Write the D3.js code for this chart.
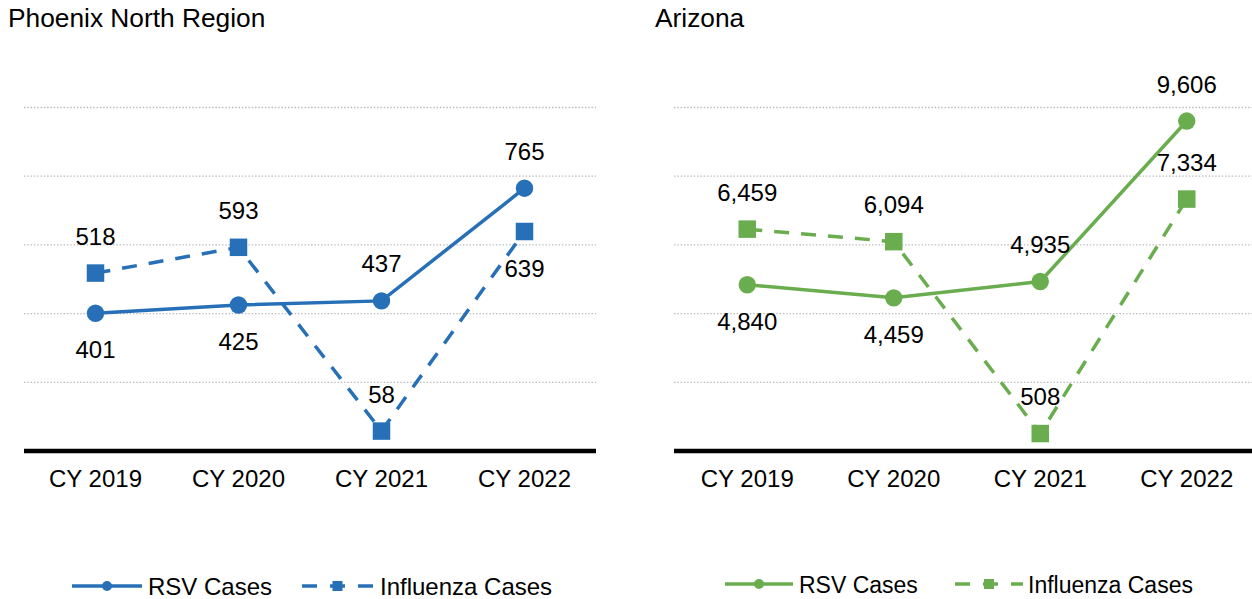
<!DOCTYPE html>
<html>
<head>
<meta charset="utf-8">
<script src="https://cdn.jsdelivr.net/npm/d3@7"></script>
<style>
  html, body { margin: 0; padding: 0; background: #fff; }
  svg { display: block; font-family: "Liberation Sans", Arial, sans-serif; }
</style>
</head>
<body>
<svg id="chart" width="1252" height="599"></svg>
<script>
// Calendar years on the x axis
const categories = ["CY 2019", "CY 2020", "CY 2021", "CY 2022"];

// Phoenix North Region case counts
const phxRsv = [401, 425, 437, 765];
const phxFlu = [518, 593, 58, 639];

// Arizona statewide case counts
const azRsv = [4840, 4459, 4935, 9606];
const azFlu = [6459, 6094, 508, 7334];

// Value axis extents (gridlines every fifth of the range)
const phxMax = 1000;
const azMax = 10000;

// Where each data label sits relative to its marker
const phxRsvLabelPos = ["below", "below", "above", "above"];
const phxFluLabelPos = ["above", "above", "above", "below"];
const azRsvLabelPos  = ["below", "below", "above", "above"];
const azFluLabelPos  = ["above", "above", "above", "above"];

const BLUE = "#2770B8";
const GREEN = "#69AD4F";

const svg = d3.select("#chart");
const fmt = d3.format(",");

const panels = [
  {
    title: "Phoenix North Region", titleX: 8,
    x0: 24, x1: 596, max: phxMax, color: BLUE,
    series: [
      { name: "RSV Cases", values: phxRsv, labelPos: phxRsvLabelPos, dashed: false, marker: "circle" },
      { name: "Influenza Cases", values: phxFlu, labelPos: phxFluLabelPos, dashed: true, marker: "square" }
    ],
    legend: { y: 586, font: 24, rsvLine: [72, 142], rsvText: 148, fluLine: [302, 373], fluText: 380 }
  },
  {
    title: "Arizona", titleX: 655,
    x0: 674, x1: 1260, max: azMax, color: GREEN,
    series: [
      { name: "RSV Cases", values: azRsv, labelPos: azRsvLabelPos, dashed: false, marker: "circle" },
      { name: "Influenza Cases", values: azFlu, labelPos: azFluLabelPos, dashed: true, marker: "square" }
    ],
    legend: { y: 584, font: 23, rsvLine: [725, 793], rsvText: 799, fluLine: [955, 1023], fluText: 1028 }
  }
];

const yTop = 107.5, yBottom = 451;
const DASH = "15,12";
const FONT = 24;

panels.forEach(p => {
  const g = svg.append("g");

  const x = d3.scaleBand().domain(categories).range([p.x0, p.x1]);
  const y = d3.scaleLinear().domain([0, p.max]).range([yBottom, yTop]);
  const cx = c => x(c) + x.bandwidth() / 2;

  // Title
  g.append("text")
    .attr("x", p.titleX).attr("y", 27)
    .attr("font-size", 26.3).attr("fill", "#000")
    .text(p.title);

  // Dotted horizontal gridlines
  g.append("g")
    .selectAll("line")
    .data(y.ticks(5).filter(t => t > 0))
    .join("line")
    .attr("x1", p.x0).attr("x2", p.x1)
    .attr("y1", d => y(d)).attr("y2", d => y(d))
    .attr("stroke", "#BDBDBD").attr("stroke-width", 1.3)
    .attr("stroke-dasharray", "1.5,1.8");

  // Category axis: heavy baseline, no ticks
  const axis = g.append("g")
    .attr("transform", `translate(0,${yBottom})`)
    .call(d3.axisBottom(x).tickSize(0).tickPadding(0));
  axis.select(".domain")
    .attr("stroke", "#000").attr("stroke-width", 4.5)
    .attr("d", `M${p.x0},0H${p.x1}`);
  axis.selectAll(".tick text")
    .attr("font-size", FONT).attr("fill", "#000")
    .attr("font-family", "Liberation Sans, Arial, sans-serif")
    .attr("dy", 0).attr("y", 36);

  const line = d3.line()
    .x((d, i) => cx(categories[i]))
    .y(d => y(d));

  // Series lines
  p.series.forEach(s => {
    g.append("path")
      .datum(s.values)
      .attr("d", line)
      .attr("fill", "none")
      .attr("stroke", p.color)
      .attr("stroke-width", 3.5)
      .attr("stroke-dasharray", s.dashed ? DASH : null);
  });

  // Markers
  p.series.forEach(s => {
    const mg = g.append("g");
    if (s.marker === "circle") {
      mg.selectAll("circle").data(s.values).join("circle")
        .attr("cx", (d, i) => cx(categories[i]))
        .attr("cy", d => y(d))
        .attr("r", 8.7)
        .attr("fill", p.color);
    } else {
      const sz = 17.5;
      mg.selectAll("rect").data(s.values).join("rect")
        .attr("x", (d, i) => cx(categories[i]) - sz / 2)
        .attr("y", d => y(d) - sz / 2)
        .attr("width", sz).attr("height", sz)
        .attr("fill", p.color);
    }
  });

  // Data labels
  p.series.forEach(s => {
    g.append("g").selectAll("text").data(s.values).join("text")
      .attr("x", (d, i) => cx(categories[i]))
      .attr("y", (d, i) => s.labelPos[i] === "above" ? y(d) - 28.5 : y(d) + 45)
      .attr("text-anchor", "middle")
      .attr("font-size", FONT).attr("fill", "#000")
      .text(d => fmt(d));
  });

  // Legend
  const L = p.legend;
  const lg = g.append("g");
  lg.append("line")
    .attr("x1", L.rsvLine[0]).attr("x2", L.rsvLine[1])
    .attr("y1", L.y).attr("y2", L.y)
    .attr("stroke", p.color).attr("stroke-width", 3.5);
  lg.append("circle")
    .attr("cx", (L.rsvLine[0] + L.rsvLine[1]) / 2).attr("cy", L.y)
    .attr("r", 5).attr("fill", p.color);
  lg.append("text")
    .attr("x", L.rsvText).attr("y", L.y + 8.7)
    .attr("font-size", L.font).attr("fill", "#000")
    .text(p.series[0].name);

  lg.append("line")
    .attr("x1", L.fluLine[0]).attr("x2", L.fluLine[1])
    .attr("y1", L.y).attr("y2", L.y)
    .attr("stroke", p.color).attr("stroke-width", 3.5)
    .attr("stroke-dasharray", "15,13");
  lg.append("rect")
    .attr("x", (L.fluLine[0] + L.fluLine[1]) / 2 - 5).attr("y", L.y - 5)
    .attr("width", 10).attr("height", 10)
    .attr("fill", p.color);
  lg.append("text")
    .attr("x", L.fluText).attr("y", L.y + 8.7)
    .attr("font-size", L.font).attr("fill", "#000")
    .text(p.series[1].name);
});
</script>
</body>
</html>
